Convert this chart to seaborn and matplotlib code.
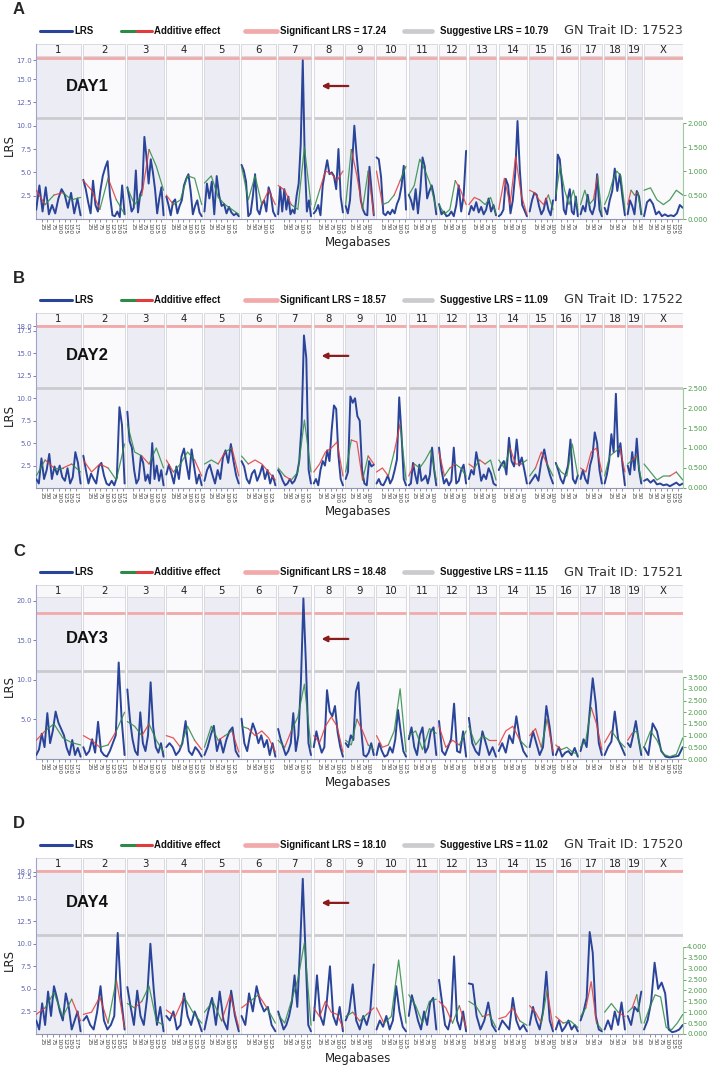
import numpy as np
import pandas as pd
import matplotlib
matplotlib.use("Agg")
import matplotlib.pyplot as plt
import matplotlib.transforms as mtransforms
from matplotlib.lines import Line2D
from matplotlib.patches import Rectangle
import seaborn as sns

# ── chromosome layout (Mb) ────────────────────────────────────────────────────
CHROMS = ["1", "2", "3", "4", "5", "6", "7", "8", "9", "10",
          "11", "12", "13", "14", "15", "16", "17", "18", "19", "X"]
CHROM_MB = [195.5, 182.1, 160.0, 156.5, 151.8, 149.7, 145.4, 129.4, 124.6, 130.7,
            122.1, 120.1, 120.4, 124.9, 104.0, 98.2, 94.9, 90.7, 61.4, 171.0]
MB_TICKS = [25, 50, 75, 100, 125, 150, 175]

PANELS = ["A", "B", "C", "D"]
DAYS = ["DAY1", "DAY2", "DAY3", "DAY4"]
TRAIT_IDS = ["17523", "17522", "17521", "17520"]
SIG_LRS = [17.24, 18.57, 18.48, 18.10]
SUG_LRS = [10.79, 11.09, 11.15, 11.02]
LRS_TICKS = [
    [2.5, 5.0, 7.5, 10.0, 12.5, 15.0, 17.0],
    [2.5, 5.0, 7.5, 10.0, 12.5, 15.0, 17.5, 18.0],
    [5.0, 10.0, 15.0, 20.0],
    [2.5, 5.0, 7.5, 10.0, 12.5, 15.0, 17.5, 18.0],
]
ADD_TICKS = [
    [0.0, 0.5, 1.0, 1.5, 2.0],
    [0.0, 0.5, 1.0, 1.5, 2.0, 2.5],
    [0.0, 0.5, 1.0, 1.5, 2.0, 2.5, 3.0, 3.5],
    [0.0, 0.5, 1.0, 1.5, 2.0, 2.5, 3.0, 3.5, 4.0],
]

# ── LRS per chromosome (evenly spaced along each chromosome) ─────────────────
LRS_DAY1 = [
    [1.0, 3.6, 0.8, 3.4, 0.5, 1.5, 0.6, 2.2, 3.2, 2.6, 1.2, 2.8, 0.6, 2.2, 0.4],
    [4.2, 3.2, 1.8, 0.6, 4.1, 1.5, 0.8, 3.0, 4.6, 5.5, 6.2, 2.5, 0.4, 0.3, 0.8, 0.2, 3.6, 0.5],
    [3.4, 2.2, 0.8, 1.2, 5.2, 0.7, 2.6, 3.2, 8.8, 6.6, 3.8, 6.4, 5.0, 3.2, 0.6, 2.2, 3.4, 0.4],
    [2.4, 1.5, 0.4, 1.8, 2.1, 0.6, 1.4, 2.0, 3.6, 4.3, 4.8, 3.0, 0.5, 1.4, 2.0, 0.7, 0.3],
    [0.8, 3.8, 2.2, 4.0, 0.5, 4.6, 2.5, 1.4, 1.6, 0.6, 1.3, 0.7, 0.4, 0.6, 0.3],
    [5.8, 5.2, 4.0, 0.3, 0.6, 2.4, 4.8, 1.0, 0.5, 1.6, 2.0, 0.8, 3.4, 2.6, 0.8, 0.3],
    [0.5, 3.4, 0.8, 3.2, 1.0, 2.4, 0.5, 1.0, 0.6, 2.5, 3.8, 8.0, 17.0, 6.0, 0.8, 2.0, 0.3],
    [0.6, 0.9, 1.5, 0.4, 3.6, 5.0, 6.3, 4.8, 5.0, 4.6, 3.2, 7.5, 2.4, 0.7],
    [1.4, 0.6, 2.0, 6.0, 10.0, 7.0, 4.5, 2.0, 1.0, 0.5, 0.4, 5.6, 3.0, 0.4],
    [6.6, 6.4, 4.5, 0.6, 0.4, 0.8, 0.5, 1.0, 0.6, 1.6, 2.2, 3.5, 5.7, 1.0],
    [2.6, 2.0, 1.0, 3.2, 0.6, 3.0, 6.6, 5.6, 2.2, 3.0, 3.6, 2.4, 0.5],
    [1.6, 0.5, 0.8, 0.3, 0.4, 0.8, 0.3, 1.5, 3.6, 0.8, 2.5, 7.3],
    [0.5, 1.4, 0.9, 1.8, 0.7, 1.3, 0.5, 1.0, 2.2, 0.8, 1.5, 0.4],
    [0.3, 0.5, 1.0, 4.3, 3.6, 0.6, 2.0, 4.8, 10.5, 5.2, 1.5, 0.9, 0.3],
    [0.8, 2.0, 2.8, 2.6, 1.4, 0.5, 1.0, 2.2, 1.0, 0.4, 2.0],
    [2.0, 6.9, 6.4, 4.0, 1.0, 0.5, 2.2, 3.2, 0.8, 0.5, 2.4, 0.3],
    [0.5, 1.4, 0.8, 2.6, 1.0, 0.5, 1.4, 4.8, 1.0, 0.3],
    [1.2, 0.5, 2.0, 3.0, 5.4, 3.0, 4.8, 2.4, 0.4],
    [0.5, 2.0, 1.4, 0.5, 3.0, 2.4, 0.5],
    [0.3, 1.8, 2.1, 1.6, 0.5, 0.8, 0.3, 0.5, 0.3, 0.4, 0.3, 0.6, 1.5, 1.2],
]
LRS_DAY2 = [
    [1.0, 0.5, 3.3, 1.0, 2.0, 3.8, 1.0, 2.4, 1.5, 2.5, 1.2, 0.8, 2.2, 0.5, 1.2, 4.0, 2.8, 0.5],
    [3.6, 2.0, 0.5, 1.6, 1.0, 0.5, 2.4, 2.8, 1.4, 0.5, 0.3, 0.8, 0.3, 1.2, 9.0, 7.0, 0.5],
    [8.5, 5.2, 4.5, 2.0, 0.5, 1.0, 3.6, 2.8, 0.8, 1.5, 0.5, 5.0, 1.0, 2.5, 0.8, 2.0, 0.3],
    [1.5, 2.6, 1.6, 0.5, 2.4, 1.0, 3.5, 4.4, 2.6, 1.0, 4.3, 2.4, 0.5, 1.5, 0.3],
    [0.8, 2.0, 2.6, 1.5, 0.5, 2.0, 1.0, 3.4, 4.2, 2.8, 4.9, 3.0, 1.4, 0.5],
    [3.0, 2.4, 1.0, 0.5, 1.6, 2.0, 0.8, 1.5, 2.5, 1.0, 2.0, 0.5, 1.4, 0.3],
    [2.0, 1.5, 0.8, 0.3, 0.5, 1.0, 0.5, 0.8, 1.5, 3.0, 7.0, 17.0, 14.5, 2.0, 0.5],
    [0.5, 1.0, 0.3, 2.0, 3.0, 2.5, 4.2, 3.0, 6.5, 9.2, 8.8, 3.6, 1.0, 0.3],
    [1.0, 1.8, 10.2, 9.5, 10.0, 8.0, 7.5, 2.0, 0.5, 0.3, 3.0, 2.4, 2.6],
    [0.5, 1.0, 0.4, 0.3, 0.8, 1.4, 0.5, 1.0, 2.0, 3.2, 10.1, 6.0, 1.0, 0.3],
    [0.3, 0.5, 2.8, 1.5, 0.5, 2.6, 0.8, 1.0, 1.4, 0.5, 1.5, 4.5, 2.0, 0.3],
    [4.5, 2.0, 0.5, 1.0, 0.3, 0.8, 4.5, 0.5, 0.8, 2.0, 2.6, 0.5],
    [1.0, 2.0, 1.5, 4.0, 2.6, 0.8, 1.5, 1.0, 2.2, 1.6, 0.5, 0.3],
    [2.0, 2.6, 3.0, 1.5, 5.6, 3.0, 2.4, 5.4, 2.5, 3.4, 2.0, 0.5],
    [0.5, 1.0, 1.5, 0.8, 3.0, 4.3, 2.6, 1.4, 0.5],
    [2.8, 2.0, 1.0, 0.5, 1.5, 2.5, 5.4, 1.0, 0.5, 1.4],
    [1.0, 2.0, 1.0, 0.5, 2.5, 3.5, 6.2, 5.0, 2.0, 0.5],
    [0.5, 1.5, 3.0, 6.0, 4.0, 10.5, 3.5, 5.0, 2.4, 0.3],
    [2.5, 1.5, 4.0, 2.0, 5.5, 2.0, 0.5],
    [0.8, 1.0, 0.6, 0.9, 0.4, 0.5, 0.3, 0.4, 0.2, 0.4, 0.6, 0.3, 0.5],
]
LRS_DAY3 = [
    [0.5, 1.2, 3.2, 1.5, 5.8, 2.0, 3.6, 6.0, 4.6, 3.8, 3.0, 1.4, 0.5, 2.4, 0.5, 1.4, 0.3],
    [1.5, 0.5, 1.0, 2.5, 0.8, 4.7, 1.0, 0.5, 0.3, 1.0, 2.0, 3.0, 12.2, 5.0, 0.5],
    [8.8, 5.0, 2.5, 1.0, 0.5, 5.9, 2.0, 1.0, 3.0, 9.7, 4.0, 1.5, 0.8, 2.0, 0.3],
    [1.5, 2.0, 1.5, 0.5, 1.0, 2.0, 4.8, 1.0, 0.5, 1.5, 1.0, 0.3],
    [0.5, 1.5, 3.0, 4.2, 1.0, 2.5, 0.8, 2.4, 3.5, 4.0, 1.0, 0.3],
    [5.1, 2.0, 1.0, 3.0, 4.5, 3.5, 2.0, 3.0, 1.5, 2.4, 0.5, 2.0, 0.3],
    [3.8, 2.5, 1.5, 0.5, 1.0, 2.0, 5.8, 1.0, 3.0, 9.5, 20.3, 12.0, 2.0, 0.5],
    [1.5, 3.5, 2.0, 0.8, 1.5, 8.7, 6.0, 5.4, 6.7, 3.4, 1.5, 0.3],
    [2.0, 1.5, 3.0, 2.4, 8.5, 9.7, 4.0, 0.5, 0.3, 0.8, 2.0, 0.5],
    [0.5, 2.0, 1.0, 0.3, 0.5, 1.5, 0.8, 2.5, 6.2, 3.5, 1.0, 0.3],
    [2.5, 4.0, 1.5, 0.5, 3.0, 4.0, 0.8, 1.5, 3.5, 4.0, 0.5],
    [4.8, 1.0, 0.5, 1.5, 2.5, 7.0, 1.0, 0.8, 3.5, 0.3],
    [5.2, 2.0, 1.0, 0.5, 3.5, 2.0, 0.5, 1.5, 0.3],
    [1.0, 2.0, 0.8, 3.0, 2.0, 5.4, 2.5, 1.0, 0.3],
    [1.5, 3.5, 2.0, 0.5, 1.5, 6.7, 4.0, 0.5],
    [0.5, 1.5, 0.3, 0.8, 1.0, 0.5, 1.4, 0.3],
    [1.0, 2.5, 1.5, 6.0, 10.2, 7.0, 2.0, 0.5],
    [0.5, 1.5, 2.2, 6.0, 2.5, 1.5, 0.5],
    [2.0, 1.5, 3.0, 4.8, 2.5, 0.5],
    [1.5, 0.5, 4.5, 3.5, 1.0, 0.3, 0.2, 0.3, 0.4, 1.5],
]
LRS_DAY4 = [
    [1.5, 0.5, 3.4, 1.0, 4.7, 2.0, 5.3, 4.0, 2.5, 1.5, 4.5, 3.0, 0.5, 1.5, 2.5, 0.3],
    [1.5, 2.0, 1.0, 0.5, 2.4, 5.3, 1.5, 0.5, 1.0, 2.0, 11.2, 4.0, 0.5],
    [5.2, 3.0, 1.0, 4.8, 2.0, 1.0, 4.0, 10.0, 5.0, 1.0, 3.0, 0.3],
    [2.0, 1.5, 2.5, 0.5, 1.0, 4.5, 2.0, 1.0, 2.5, 1.5, 0.3],
    [0.5, 2.5, 4.0, 1.0, 4.7, 1.5, 0.5, 4.8, 2.0, 0.3],
    [2.0, 1.0, 4.5, 2.5, 5.3, 3.5, 2.5, 3.0, 1.0, 0.3],
    [2.5, 1.5, 0.5, 1.0, 2.0, 3.5, 6.5, 3.0, 9.4, 17.2, 9.0, 1.0, 0.3],
    [1.5, 6.5, 2.0, 1.0, 3.5, 7.5, 2.0, 1.0, 3.0, 0.3],
    [1.5, 2.5, 5.5, 1.5, 0.5, 2.0, 1.0, 2.5, 7.7],
    [0.5, 1.5, 0.8, 2.0, 0.5, 1.5, 5.3, 2.5, 0.8, 0.3],
    [2.0, 4.3, 3.0, 1.5, 0.5, 2.5, 1.0, 3.5, 4.0, 0.5],
    [6.0, 3.5, 1.0, 0.5, 2.0, 8.6, 1.5, 0.5, 2.5, 0.3],
    [5.6, 5.5, 2.0, 0.5, 1.5, 3.5, 1.0, 0.3],
    [0.5, 1.5, 1.0, 0.5, 4.0, 1.5, 0.5, 1.0, 0.3],
    [1.0, 3.0, 1.5, 0.5, 2.5, 6.9, 1.5, 0.3],
    [0.5, 1.5, 0.3, 0.8, 1.5, 0.5, 1.0, 0.3],
    [1.5, 2.5, 4.0, 11.3, 9.0, 2.0, 0.5, 0.3],
    [0.5, 1.5, 0.5, 2.5, 1.0, 3.5, 0.5],
    [2.0, 1.0, 3.0, 2.5, 4.7],
    [0.5, 1.5, 3.5, 7.9, 5.0, 5.7, 4.5, 0.5, 0.2, 0.3, 0.5, 1.0],
]

# ── additive effect per chromosome (sign: + green, - red) ────────────────────
ADD_DAY1 = [
    [-0.6, 0.3, -0.5, 0.55, 0.4, -0.45], [-0.8, -0.6, 0.2, -0.85, 0.4, 0.1],
    [0.65, 0.3, -0.5, 1.45, 1.1, 0.6], [-0.5, 0.3, 0.4, 0.9, 0.85, 0.3],
    [0.75, 0.9, 0.45, 0.3, 0.2, 0.1], [1.1, 0.4, 0.9, -0.3, -0.6, -0.3],
    [-0.7, -0.6, 0.3, 0.2, 1.5, 0.3], [0.2, -0.6, -1.0, -0.95, -0.8, -1.0],
    [0.3, -1.45, -0.9, 0.2, -1.0, 0.1], [-1.0, 0.3, 0.35, -0.5, 0.8, 1.1],
    [0.5, 0.7, 1.25, 1.0, 0.7, 0.2], [0.3, 0.1, 0.2, -0.8, -0.6, 0.3],
    [-0.3, -0.45, 0.4, 0.3, 0.45, 0.1], [-0.2, -0.85, -0.3, -1.3, -0.5, 0.1],
    [-0.6, -0.55, -0.4, -0.3, 0.5, -0.2], [0.5, 1.1, 0.6, 0.3, 0.6, 0.2],
    [0.3, 0.6, 0.3, -0.4, 0.9, 0.1], [0.3, 0.5, 0.8, 1.0, 0.9, 0.2],
    [-0.3, 0.6, -0.5, 0.55, 0.1], [0.6, 0.65, 0.4, 0.3, 0.4, 0.6, 0.5],
]
ADD_DAY2 = [
    [0.3, -0.7, 0.5, -0.5, 0.6, 0.4], [-0.7, -0.4, -0.6, 0.5, 0.2, -1.1],
    [1.6, 0.9, -0.8, 0.6, 1.0, 0.5], [-0.7, 0.4, 0.6, 0.9, -0.7, 0.3],
    [0.6, 0.7, -0.6, 0.9, -1.0, 0.3], [0.8, -0.6, -0.7, -0.6, -0.4, 0.2],
    [0.5, -0.3, 0.2, 0.4, 1.7, 0.4], [-0.4, -0.6, -0.9, -1.0, -1.15, -0.3],
    [0.4, -1.2, -1.15, 0.2, -0.8, 0.6], [-0.4, -0.5, 0.3, -0.9, 1.6, 0.2],
    [-0.3, 0.6, 0.5, 0.7, 0.95, 0.2], [-0.9, 0.3, -0.5, 0.6, 0.5, 0.3],
    [-0.6, 0.5, -0.7, 0.6, 0.7, 0.2], [0.7, 0.5, -1.0, -0.6, 0.6, -0.7],
    [0.3, -0.5, -0.9, 0.6, 0.3], [0.6, 0.4, 0.3, 1.1, 0.3],
    [-0.5, -0.4, -0.9, -1.0, 0.4], [0.3, 0.8, 0.9, -1.0, 0.4],
    [0.6, -0.7, 0.8, 0.2], [0.6, 0.4, 0.2, 0.3, -0.3, 0.4, 0.2],
]
ADD_DAY3 = [
    [-0.8, 1.2, 1.5, 0.9, 0.7, 0.6], [-1.0, -0.8, 0.5, -0.6, 1.2, -2.0],
    [1.6, 1.4, -1.0, 1.5, 0.8, 0.3], [-1.0, -0.9, 0.5, 1.4, -0.8, 0.4],
    [0.5, 1.4, -0.8, 1.0, -1.2, 0.3], [1.4, -1.3, -1.0, -1.2, -0.9, 0.3],
    [0.8, -0.5, 1.2, 1.8, 3.2, 0.5], [-1.0, -0.7, -1.4, -1.8, -1.4, -0.3],
    [0.8, 0.6, -1.7, -1.2, 0.6, 0.4], [-1.0, -0.5, 0.6, 1.2, 3.0, 0.3],
    [1.0, 1.2, 0.4, 1.3, 1.1], [-1.4, -0.5, -0.8, 0.6, -1.2],
    [1.4, 0.6, 1.0, -0.8, 0.8], [-0.6, -1.2, -1.4, 0.8, -0.5],
    [-1.0, -1.3, 0.5, -1.7, 0.3], [-0.6, 0.4, 0.5, 0.3, 0.2],
    [0.5, 0.8, -2.2, -1.5, 0.4], [-0.7, 1.2, 0.8, 0.5],
    [-0.8, 1.1, 1.2, 0.3], [0.5, 1.2, 0.8, 0.2, 0.1, 0.2, 0.9],
]
ADD_DAY4 = [
    [-0.9, 1.2, 1.9, 0.8, -1.6, 0.6], [-0.9, -1.0, -1.7, 0.5, -2.5, 0.3],
    [1.4, -1.2, 1.5, 2.2, 0.6, 0.4], [-1.1, -0.8, 1.7, 1.0, 0.5],
    [1.0, 1.5, -0.6, -1.8, 0.3], [-1.2, 1.5, -1.8, 1.2, 0.5],
    [0.9, 0.5, 1.5, 2.5, 4.2, 0.4], [-1.2, -0.8, -1.5, -1.0, -0.9, 0.3],
    [0.8, -1.0, 0.6, -0.9, 1.2], [-1.2, 0.5, 0.8, 3.4, 0.5],
    [1.8, 1.3, 0.5, 1.5, 1.6], [-1.5, -1.2, 0.5, -1.3, 0.3],
    [1.5, 1.3, -0.8, 0.9, 0.3], [-0.7, -0.8, -1.2, 0.6, 0.4],
    [-1.3, -1.0, 0.5, -2.0, 0.3], [-0.8, 0.5, 0.6, 0.3],
    [0.8, -1.2, -2.4, 0.5, 0.2], [1.0, 1.4, -1.0, 0.8],
    [1.0, -1.2, 1.8, 0.5], [0.5, 1.2, 1.8, 1.7, 0.3, 0.2, 0.5, 0.9],
]

LRS_ALL = [LRS_DAY1, LRS_DAY2, LRS_DAY3, LRS_DAY4]
ADD_ALL = [ADD_DAY1, ADD_DAY2, ADD_DAY3, ADD_DAY4]

# ── layout (pixels in the 711x1066 image) ────────────────────────────────────
W, H = 711, 1066
PLOT_L, PLOT_R = 36, 683
HEAD_TOP = [44, 313, 585, 858]
AX_BOT = [219, 488, 759, 1034]
LRS_TOP = [18.75, 19.5, 22.0, 19.5]
ADD_TOP = [3.65, 4.375, 7.44, 8.08]
DAY_Y = [0.76, 0.755, 0.69, 0.745]
GAP_MB = 10.0

BLUE = "#2a449a"
GREEN = "#2e8b47"
RED = "#e23b3b"
PINK = "#f2a9a9"
GREY = "#cbcbcf"
BAND_DARK = "#ecedf4"
BAND_LIGHT = "#faf9fb"
EDGE = "#d9d9e0"

sns.set_style("white")
plt.rcParams["font.family"] = ["DejaVu Sans"]
ARIAL = ["Liberation Sans", "DejaVu Sans"]

offsets = np.cumsum([0.0] + [l + GAP_MB for l in CHROM_MB[:-1]])
x_total = offsets[-1] + CHROM_MB[-1]


def chrom_pos(ci, n):
    return offsets[ci] + np.linspace(1.0, CHROM_MB[ci] - 1.0, n)


def lrs_frame(lrs):
    rows = []
    for ci, vals in enumerate(lrs):
        for p, v in zip(chrom_pos(ci, len(vals)), vals):
            rows.append({"chrom": ci, "pos": p, "lrs": v})
    return pd.DataFrame(rows)


def add_frame(add):
    rows = []
    run = 0
    for ci, vals in enumerate(add):
        pos = chrom_pos(ci, len(vals))
        i = 0
        while i < len(vals):
            positive = vals[i] >= 0
            j = i
            while j + 1 < len(vals) and (vals[j + 1] >= 0) == positive:
                j += 1
            end = min(j + 1, len(vals) - 1)
            for k in range(i, end + 1):
                rows.append({"run": run, "sign": "pos" if positive else "neg",
                             "pos": pos[k], "eff": abs(vals[k])})
            run += 1
            i = j + 1
    return pd.DataFrame(rows)


def fx(px):
    return px / W


def fy(py):
    return 1 - py / H


fig = plt.figure(figsize=(W / 100, H / 100), dpi=100)

for i in range(4):
    top, bot = HEAD_TOP[i], AX_BOT[i]
    ax = fig.add_axes([fx(PLOT_L), fy(bot), fx(PLOT_R - PLOT_L), (bot - top) / H])
    ax.set_ylim(0, LRS_TOP[i])
    head = 12.0 / (bot - top)
    head_bottom = LRS_TOP[i] * (1 - head)
    blend = mtransforms.blended_transform_factory(ax.transData, ax.transAxes)

    # chromosome bands, header cells, threshold lines
    for ci, name in enumerate(CHROMS):
        x0, w = offsets[ci], CHROM_MB[ci]
        ax.add_patch(Rectangle((x0, 0), w, 1, transform=blend, zorder=0,
                               facecolor=BAND_DARK if ci % 2 == 0 else BAND_LIGHT,
                               edgecolor=EDGE, linewidth=0.7))
        ax.add_patch(Rectangle((x0, 1 - head), w, head, transform=blend, zorder=0.5,
                               facecolor="#f8f7fa", edgecolor=EDGE, linewidth=0.7))
        ax.text(x0 + w / 2, 1 - head / 2, name, transform=blend, ha="center",
                va="center", fontsize=7.3, color="#222222")
        sig_y = min(SIG_LRS[i], head_bottom - 0.12)
        ax.plot([x0, x0 + w], [sig_y, sig_y], color=PINK, lw=2.0, zorder=1,
                solid_capstyle="butt")
        ax.plot([x0, x0 + w], [SUG_LRS[i], SUG_LRS[i]], color=GREY, lw=2.0,
                zorder=1, solid_capstyle="butt")

    # LRS trace
    sns.lineplot(data=lrs_frame(LRS_ALL[i]), x="pos", y="lrs", units="chrom",
                 estimator=None, sort=False, color=BLUE, linewidth=1.4, ax=ax,
                 zorder=3)

    # additive effect on right axis (shares x with ax)
    ax2 = ax.twinx()
    sns.lineplot(data=add_frame(ADD_ALL[i]), x="pos", y="eff", units="run",
                 hue="sign", palette={"pos": GREEN, "neg": RED}, estimator=None,
                 sort=False, linewidth=0.9, alpha=0.85, legend=False, ax=ax2)
    ax2.set_ylim(0, ADD_TOP[i])
    ax.set_xlim(0, x_total)

    # axes styling
    for s in ["top", "right"]:
        ax.spines[s].set_visible(False)
    ax.spines["left"].set_color("#9da3cc")
    ax.spines["bottom"].set_color("#9095b8")
    for s in ["top", "left", "bottom"]:
        ax2.spines[s].set_visible(False)
    ax2.spines["right"].set_color("#9ccc9c")
    ax2.spines["right"].set_bounds(0, ADD_TICKS[i][-1])

    ax.set_yticks(LRS_TICKS[i])
    ax.set_yticklabels([f"{t:.1f}" for t in LRS_TICKS[i]])
    ax.tick_params(axis="y", labelsize=5, colors="#6068b0", length=2, width=0.6, pad=1)
    ax2.set_yticks(ADD_TICKS[i])
    ax2.set_yticklabels([f"{t:.3f}" for t in ADD_TICKS[i]])
    ax2.tick_params(axis="y", labelsize=5, colors="#4c9a4c", length=2, width=0.6, pad=1)

    xt, xl = [], []
    for ci in range(len(CHROMS)):
        for m in MB_TICKS:
            if m < CHROM_MB[ci] - 3:
                xt.append(offsets[ci] + m)
                xl.append(str(m))
    ax.set_xticks(xt)
    ax.set_xticklabels(xl, rotation=-90)
    ax.tick_params(axis="x", bottom=True, labelbottom=True, labelsize=4.2,
                   colors="#444444", length=2, width=0.4, pad=1)

    ax.set_xlabel("")
    ax2.set_xlabel("")
    ax.set_ylabel("LRS", fontsize=8.5, color="#222222")
    ax.yaxis.set_label_coords(-0.031, 0.42)
    ax2.set_ylabel("")
    ax.text(0.498, -0.137, "Megabases", transform=ax.transAxes, ha="center",
            va="center", fontsize=8.5, color="#222222")

    # day label and arrow
    ax.text(0.046, DAY_Y[i], DAYS[i], transform=ax.transAxes, ha="left", va="center",
            fontsize=12, fontweight="bold", family=ARIAL, color="#111111", zorder=5)
    ax.annotate("", xy=(0.437, DAY_Y[i]), xytext=(0.487, DAY_Y[i]),
                xycoords="axes fraction",
                arrowprops=dict(arrowstyle="-|>", color="#8b1c1c", lw=1.6,
                                mutation_scale=8))

    # panel letter and legend row
    fig.text(fx(13), fy(top - 34), PANELS[i], fontsize=12, fontweight="bold",
             family=ARIAL, va="center", ha="left")
    ly = fy(top - 13)
    fig.add_artist(Line2D([fx(40), fx(72)], [ly, ly], color=BLUE, lw=2.2))
    fig.add_artist(Line2D([fx(121), fx(137)], [ly, ly], color=GREEN, lw=2.2))
    fig.add_artist(Line2D([fx(137), fx(152)], [ly, ly], color=RED, lw=2.2))
    fig.add_artist(Line2D([fx(245), fx(277)], [ly, ly], color=PINK, lw=3.4))
    fig.add_artist(Line2D([fx(404), fx(432)], [ly, ly], color=GREY, lw=3.4))
    lab = dict(fontsize=6.9, fontweight="bold", family=ARIAL, va="center",
               ha="left", color="#111111")
    fig.text(fx(74), ly, "LRS", **lab)
    fig.text(fx(154), ly, "Additive effect", **lab)
    fig.text(fx(280), ly, f"Significant LRS = {SIG_LRS[i]:.2f}", **lab)
    fig.text(fx(440), ly, f"Suggestive LRS = {SUG_LRS[i]:.2f}", **lab)
    fig.text(fx(683), ly, f"GN Trait ID: {TRAIT_IDS[i]}", fontsize=9.3,
             color="#333333", va="center", ha="right")

fig.savefig("out.png", dpi=100)
